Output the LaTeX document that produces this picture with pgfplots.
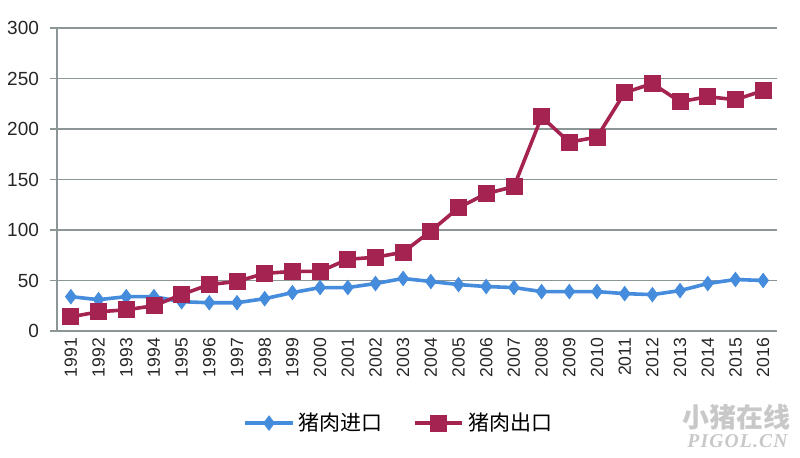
\documentclass[border=0pt]{standalone}
\usepackage{pgfplots}
\pgfplotsset{compat=1.18}
\usepackage{fontspec}
\setmainfont{Liberation Sans}
\newfontfamily\cjk{Noto Sans CJK SC}
\newfontfamily\wmserif[LetterSpace=6]{Liberation Serif}
\definecolor{impblue}{RGB}{70,140,220}
\definecolor{expred}{RGB}{165,35,80}
\definecolor{gridgray}{RGB}{140,150,150}
\definecolor{wmgray}{RGB}{200,200,200}
\begin{document}
\begin{tikzpicture}
\useasboundingbox (0,0) rectangle (400pt,-229pt);
\begin{axis}[
  at={(28.5pt,-165.5pt)}, anchor=south west,
  scale only axis, width=360pt, height=151.5pt,
  xmin=0.5, xmax=26.5, ymin=0, ymax=300,
  ytick={0,50,...,300},
  xtick={1,...,26},
  xticklabels={1991,1992,1993,1994,1995,1996,1997,1998,1999,2000,2001,2002,2003,2004,2005,2006,2007,2008,2009,2010,2011,2012,2013,2014,2015,2016},
  xtick style={draw=none},
  extra x ticks={0.5,1.5,...,26.5},
  extra x tick labels={},
  extra x tick style={tick style={draw=gridgray, line width=0.6pt}, major tick length=3pt, tick align=outside, grid=none},
  ytick align=outside,
  ytick style={draw=gridgray, line width=0.6pt},
  major tick length=3.5pt,
  axis x line*=bottom, axis y line*=left,
  axis line style={draw=gridgray, line width=0.6pt, -},
  ymajorgrids, grid style={draw=gridgray, line width=0.6pt},
  /pgf/number format/assume math mode=true,
  yticklabel style={font=\fontsize{9.5}{11}\selectfont, text=black!85, xshift=-2pt},
  xticklabel style={font=\fontsize{8.8}{10}\selectfont, text=black!85, rotate=90, anchor=east},
  legend columns=2,
  legend style={at={(0.476,-0.304)}, anchor=center, draw=none, fill=none,
     font=\cjk\fontsize{10.5}{12}\selectfont, /tikz/every even column/.append style={column sep=13pt},
     inner sep=0pt},
  legend image code/.code={\draw[mark repeat=2,mark phase=2,#1] plot coordinates {(0cm,0cm) (0.42cm,0cm) (0.84cm,0cm)};},
  clip=false,
]
\addplot[color=impblue, line width=1.8pt, mark=diamond*, mark size=3.6pt, mark options={solid, fill=impblue, draw=impblue, line width=0.4pt}]
 coordinates {(1,34)(2,31)(3,34)(4,34)(5,29)(6,28)(7,28)(8,32)(9,38)(10,43)(11,43)(12,47)(13,52)(14,49)(15,46)(16,44)(17,43)(18,39)(19,39)(20,39)(21,37)(22,36)(23,40)(24,47)(25,51)(26,50)};
\addlegendentry{猪肉进口}
\addplot[color=expred, line width=1.8pt, mark=square*, mark size=4pt, mark options={solid, fill=expred, draw=expred, line width=0.4pt}]
 coordinates {(1,14)(2,19)(3,21)(4,25)(5,36)(6,46)(7,49)(8,57)(9,59)(10,59)(11,71)(12,73)(13,78)(14,99)(15,122)(16,136)(17,143)(18,212)(19,187)(20,192)(21,236)(22,245)(23,227)(24,232)(25,229)(26,238)};
\addlegendentry{猪肉出口}
\end{axis}
\node[text=wmgray, font=\cjk\bfseries\fontsize{13.5}{14}\selectfont, inner sep=0pt] at (368.25pt,-208.75pt) {小猪在线};
\node[text=wmgray, font=\wmserif\bfseries\itshape\fontsize{9.8}{10}\selectfont, inner sep=0pt] at (368.75pt,-220.75pt) {PIGOL.CN};
\end{tikzpicture}
\end{document}
